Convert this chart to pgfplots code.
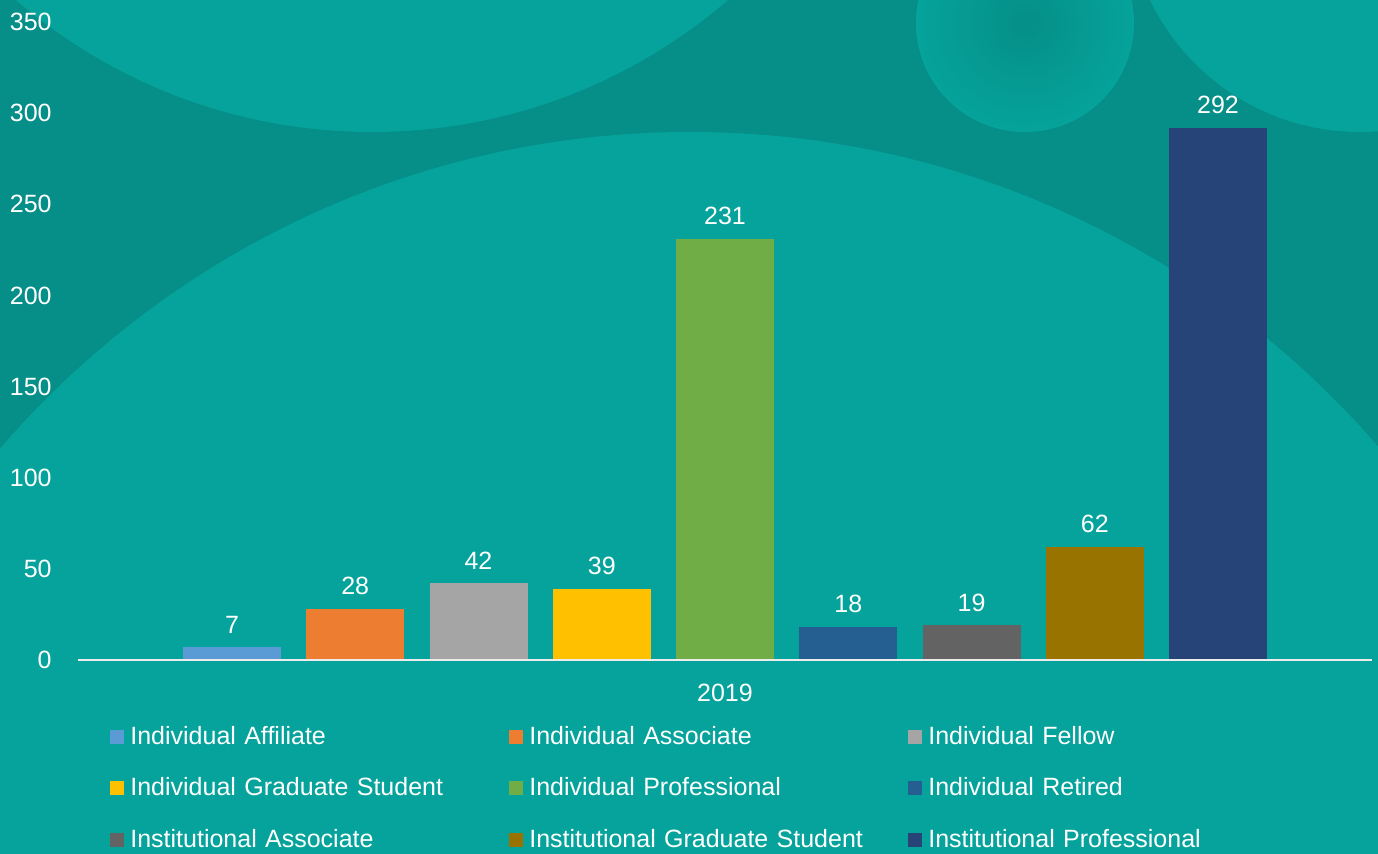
\documentclass[border=0pt]{standalone}
\usepackage{fontspec}
\setmainfont{Liberation Sans}
\usepackage{pgfplots}
\pgfplotsset{compat=1.18}
\definecolor{bgdark}{HTML}{058F88}
\definecolor{bglight}{HTML}{05A39B}
\definecolor{cA}{HTML}{5B9BD5}
\definecolor{cB}{HTML}{ED7D31}
\definecolor{cC}{HTML}{A5A5A5}
\definecolor{cD}{HTML}{FFC000}
\definecolor{cE}{HTML}{70AD47}
\definecolor{cF}{HTML}{255E91}
\definecolor{cG}{HTML}{636363}
\definecolor{cH}{HTML}{997300}
\definecolor{cI}{HTML}{264478}
\newcommand{\chfont}{\fontsize{12.5}{15}\selectfont}
\begin{document}
\begin{tikzpicture}
% background (pixel units: 0.5pt per px, y down)
\begin{scope}[x=0.5pt,y=-0.5pt,shift={(0,427pt)}]
  \fill[bgdark] (0,0) rectangle (1378,854);
  \begin{scope}
    \clip (0,0) rectangle (1378,854);
    \fill[bglight] (372,-414) circle[radius=546];
    \shade[inner color=bgdark, outer color=bglight] (1025,23) circle[radius=109];
    \fill[bglight] (1360,-101) circle[radius=233];
    \fill[bglight] (690,1042) circle[radius=910];
  \end{scope}
\end{scope}
\begin{axis}[
  scale only axis,
  width=689pt, height=427pt,
  xmin=0, xmax=1378,
  ymin=-106.42, ymax=362.07,
  axis line style={draw=none},
  major tick length=0pt,
  xtick=\empty,
  ytick={0,50,...,350},
  yticklabel style={anchor=east, inner sep=0pt, xshift=26pt, text=white, font=\chfont},
  /pgf/number format/assume math mode=true,
  ybar, bar width=49pt,
  nodes near coords,
  every node near coord/.append style={text=white, font=\chfont, yshift=3.5pt},
  legend columns=3,
  legend cell align=left,
  legend image code/.code={\fill[#1] (0pt,-3.5pt) rectangle (7pt,3.5pt);},
  legend style={
    at={(axis cs:104,-32)}, anchor=north west,
    draw=none, fill=none, text=white, font=\chfont,
    row sep=11pt,
    nodes={text width=186.5pt, inner xsep=3pt},
  },
  clip=false,
]
\addplot[fill=cA, draw=none, bar shift=0pt] coordinates {(232,7)};
\addlegendentry{Individual Affiliate}
\addplot[fill=cB, draw=none, bar shift=0pt] coordinates {(355.25,28)};
\addlegendentry{Individual Associate}
\addplot[fill=cC, draw=none, bar shift=0pt] coordinates {(478.5,42)};
\addlegendentry{Individual Fellow}
\addplot[fill=cD, draw=none, bar shift=0pt] coordinates {(601.75,39)};
\addlegendentry{Individual Graduate Student}
\addplot[fill=cE, draw=none, bar shift=0pt] coordinates {(725,231)};
\addlegendentry{Individual Professional}
\addplot[fill=cF, draw=none, bar shift=0pt] coordinates {(848.25,18)};
\addlegendentry{Individual Retired}
\addplot[fill=cG, draw=none, bar shift=0pt] coordinates {(971.5,19)};
\addlegendentry{Institutional Associate}
\addplot[fill=cH, draw=none, bar shift=0pt] coordinates {(1094.75,62)};
\addlegendentry{Institutional Graduate Student}
\addplot[fill=cI, draw=none, bar shift=0pt] coordinates {(1218,292)};
\addlegendentry{Institutional Professional}
\draw[white!85!gray, line width=1pt] (axis cs:78,0) -- (axis cs:1372,0);
\node[text=white, font=\chfont] at (axis cs:725,-18.1) {2019};
\end{axis}
\pgfresetboundingbox
\useasboundingbox (0,0) rectangle (689pt,427pt);
\end{tikzpicture}
\end{document}
